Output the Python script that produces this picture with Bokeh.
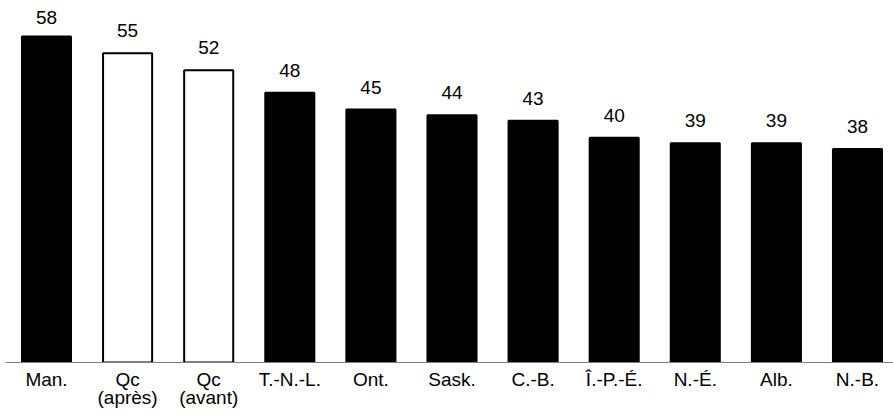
from bokeh.plotting import figure
from bokeh.models import Range1d, FixedTicker, ColumnDataSource
from bokeh.core.properties import value
from bokeh.embed import file_html
from bokeh.resources import INLINE

# Provinces ranked by value
provinces = ["Man.", "Qc\n(après)", "Qc\n(avant)", "T.-N.-L.", "Ont.", "Sask.",
             "C.-B.", "Î.-P.-É.", "N.-É.", "Alb.", "N.-B."]
values = [58, 55, 52, 48, 45, 44, 43, 40, 39, 39, 38]
# Quebec bars are drawn hollow
hollow = [False, True, True, False, False, False, False, False, False, False, False]

FONT = "Liberation Sans"
FRAME_H = 362
Y_END = 64.4
PX_PER_UNIT = FRAME_H / Y_END

xs = list(range(len(provinces)))
# value labels sit a fixed pixel gap above each bar, but never above the top margin
label_gap = 16 / PX_PER_UNIT
label_cap = Y_END - 23 / PX_PER_UNIT
label_y = [min(v + label_gap, label_cap) for v in values]

src = ColumnDataSource(dict(
    x=xs,
    top=values,
    fill=["white" if h else "black" for h in hollow],
    ly=label_y,
    txt=[str(v) for v in values],
))

p = figure(
    frame_width=888, frame_height=FRAME_H,
    x_range=Range1d(-0.5055, 10.444), y_range=Range1d(0, Y_END),
    output_backend="svg", toolbar_location=None,
    min_border_left=5, min_border_right=0, min_border_top=0, min_border_bottom=0,
    background_fill_color="white", border_fill_color="white",
)
p.outline_line_color = None
p.grid.visible = False
p.yaxis.visible = False

p.vbar(x="x", top="top", bottom=0, width=0.605, source=src,
       fill_color="fill", line_color="black", line_width=2)

p.text(x="x", y="ly", text="txt", source=src,
       text_font=value(FONT), text_font_size="19px", text_color="black",
       text_align="center", text_baseline="bottom")

ax = p.xaxis[0]
ax.ticker = FixedTicker(ticks=xs)
ax.major_label_overrides = {i: name for i, name in enumerate(provinces)}
ax.major_label_text_font = FONT
ax.major_label_text_font_size = "19px"
ax.major_label_text_color = "black"
ax.major_label_text_line_height = 0.9
ax.major_label_standoff = 0
ax.major_tick_line_color = None
ax.minor_tick_line_color = None
ax.axis_line_color = "#7f7f7f"
ax.axis_line_width = 1

open("out.html", "w").write(file_html(p, INLINE))
